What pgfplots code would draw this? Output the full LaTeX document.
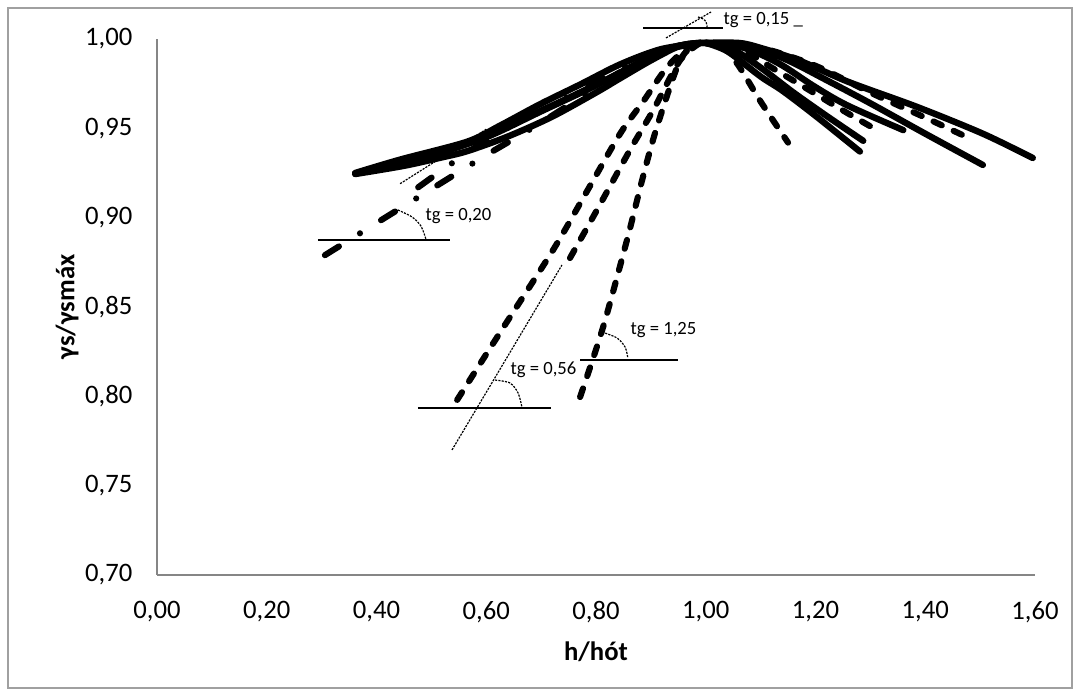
\documentclass[border=0pt]{standalone}
\usepackage{pgfplots}
\pgfplotsset{compat=1.18}
\usepackage{fontspec}
\setmainfont{Carlito}
\definecolor{axgray}{HTML}{868686}
\definecolor{framegray}{HTML}{A0A0A0}
\tikzset{
  solidc/.style={black, line width=2.4pt, line cap=round, line join=round, smooth, tension=0.5},
  dashc/.style={black, line width=2.3pt, line cap=round, line join=round, dash pattern=on 3.4pt off 4.9pt, smooth, tension=0.5},
  ddc/.style={black, line width=2.3pt, line cap=round, line join=round, dash pattern=on 6.2pt off 9.3pt on 0pt off 9.3pt, smooth, tension=0.5},
  hline/.style={black, line width=0.6pt},
  tline/.style={black, line width=0.45pt, dash pattern=on 0.8pt off 0.45pt},
  arcl/.style={black, line width=0.45pt, dash pattern=on 0.8pt off 0.45pt, smooth},
  annot/.style={font=\fontsize{7}{8}\selectfont, anchor=west, inner sep=0pt, text=black}
}
\begin{document}
\begin{tikzpicture}[font=\fontsize{10}{12}\selectfont]
\begin{axis}[
  at={(0,0)}, anchor=south west,
  width=329.25pt, height=201pt, scale only axis,
  xmin=0, xmax=1.6, ymin=0.7, ymax=1.0,
  axis x line*=bottom, axis y line*=left,
  axis line style={-, draw=axgray, line width=0.8pt},
  x axis line style={-}, y axis line style={-},
  xtick={0,0.2,0.4,0.6,0.8,1.0,1.2,1.4,1.6},
  ytick={0.70,0.75,0.80,0.85,0.90,0.95,1.00},
  major tick length=0pt,
  /pgf/number format/.cd, use comma, fixed, fixed zerofill, precision=2, assume math mode=true,
  /pgfplots/.cd,
  xticklabel style={yshift=-6.25pt},
  yticklabel style={xshift=-5.7pt},
  xlabel={\textbf{h/hót}}, ylabel={\textbf{γs/γsmáx}},
  xlabel style={at={(axis description cs:0.5,-0.1437)}, anchor=center},
  ylabel style={at={(axis description cs:-0.1025,0.5)}, anchor=center},
  clip=false,
]
% left solid branches
\addplot[solidc] coordinates {(0.361,0.925) (0.443,0.9325) (0.565,0.9425) (0.625,0.9515) (0.698,0.9635) (0.771,0.9745) (0.844,0.9858) (0.917,0.9942) (0.99,0.9978)};
\addplot[solidc] coordinates {(0.361,0.9244) (0.45,0.929) (0.516,0.9335) (0.565,0.9372) (0.64,0.9455) (0.72,0.9565) (0.80,0.970) (0.844,0.978) (0.90,0.988) (0.953,0.9962) (0.99,0.9978)};
\addplot[solidc] coordinates {(0.40,0.928) (0.50,0.935) (0.60,0.945) (0.70,0.9595) (0.80,0.974) (0.88,0.987) (0.95,0.996) (0.99,0.9978)};
\addplot[solidc] coordinates {(0.46,0.933) (0.55,0.940) (0.65,0.953) (0.75,0.967) (0.85,0.982) (0.93,0.994) (0.99,0.9978)};
% right solid branches
\addplot[solidc] coordinates {(0.99,0.9978) (1.06,0.9978) (1.10,0.995) (1.17,0.988) (1.26,0.976) (1.385,0.962) (1.505,0.947) (1.596,0.9334)};
\addplot[solidc] coordinates {(1.0,0.9978) (1.08,0.996) (1.15,0.988) (1.22,0.977) (1.30,0.964) (1.40,0.947) (1.505,0.9295)};
\addplot[solidc] coordinates {(1.0,0.9978) (1.07,0.995) (1.135,0.986) (1.195,0.974) (1.257,0.963) (1.36,0.949)};
\addplot[solidc] coordinates {(1.0,0.9978) (1.05,0.994) (1.10,0.984) (1.16,0.970) (1.22,0.957) (1.287,0.943)};
\addplot[solidc] coordinates {(1.0,0.9978) (1.04,0.993) (1.10,0.979) (1.14,0.971) (1.20,0.957) (1.281,0.937)};
% dash-dot branches
\addplot[ddc] coordinates {(0.306,0.879) (0.40,0.897) (0.50,0.916) (0.60,0.935) (0.683,0.950) (0.75,0.963) (0.82,0.977) (0.90,0.991) (0.96,0.997) (1.0,0.9978)};
\addplot[ddc] coordinates {(0.476,0.917) (0.54,0.931) (0.62,0.947) (0.72,0.963) (0.85,0.984) (0.95,0.996) (1.0,0.9978)};
% dashed branches
\addplot[dashc] coordinates {(0.547,0.798) (0.63,0.838) (0.722,0.882) (0.784,0.915) (0.844,0.947) (0.886,0.965) (0.929,0.984) (0.97,0.996) (1.0,0.9978)};
\addplot[dashc] coordinates {(0.7526,0.8774) (0.8018,0.9043) (0.862,0.9379) (0.904,0.960) (0.953,0.988) (0.99,0.9978)};
\addplot[dashc] coordinates {(0.771,0.7996) (0.813,0.8388) (0.8565,0.8875) (0.8856,0.9228) (0.911,0.9507) (0.953,0.988) (0.985,0.9978)};
\addplot[dashc] coordinates {(1.0,0.9978) (1.1,0.995) (1.2,0.985) (1.3,0.970) (1.4,0.956) (1.487,0.9435)};
\addplot[dashc] coordinates {(1.0,0.9978) (1.06,0.995) (1.12,0.984) (1.18,0.973) (1.25,0.960) (1.312,0.949)};
\addplot[dashc] coordinates {(0.99,0.9978) (1.03,0.996) (1.06,0.985) (1.10,0.965) (1.15,0.942)};
% annotations: tg = 0,15
\addplot[hline] coordinates {(0.886,1.0062) (1.031,1.0062)};
\addplot[tline] coordinates {(0.9276,1.0006) (1.0096,1.0151)};
\addplot[arcl] coordinates {(0.986,1.0123) (0.9953,1.0112) (1.0007,1.0095) (1.0025,1.0067)};
\node[annot] at (axis cs:1.0314,1.0106) {tg = 0,15 \_};
% tg = 0,20
\addplot[hline] coordinates {(0.293,0.8875) (0.534,0.8875)};
\addplot[tline] coordinates {(0.443,0.919) (0.60,0.9495)};
\addplot[arcl] coordinates {(0.439,0.9043) (0.4647,0.9004) (0.481,0.8953) (0.490,0.8881)};
\node[annot] at (axis cs:0.4884,0.9009) {tg = 0,20};
% tg = 0,56
\addplot[hline] coordinates {(0.4756,0.7935) (0.718,0.7935)};
\addplot[tline] coordinates {(0.5376,0.770) (0.738,0.8735)};
\addplot[arcl] coordinates {(0.616,0.8091) (0.643,0.8075) (0.658,0.8019) (0.665,0.794)};
\node[annot] at (axis cs:0.6433,0.8147) {tg = 0,56};
% tg = 1,25
\addplot[hline] coordinates {(0.771,0.8203) (0.949,0.8203)};
\addplot[arcl] coordinates {(0.811,0.836) (0.838,0.8327) (0.853,0.8276) (0.858,0.8215)};
\node[annot] at (axis cs:0.862,0.8371) {tg = 1,25};
\end{axis}
\draw[framegray, line width=0.9pt] (-55.875pt,-42.4pt) rectangle (343.125pt,212.625pt);
\path[use as bounding box] (-58.875pt,-45pt) rectangle (346.125pt,215.625pt);
\end{tikzpicture}
\end{document}
